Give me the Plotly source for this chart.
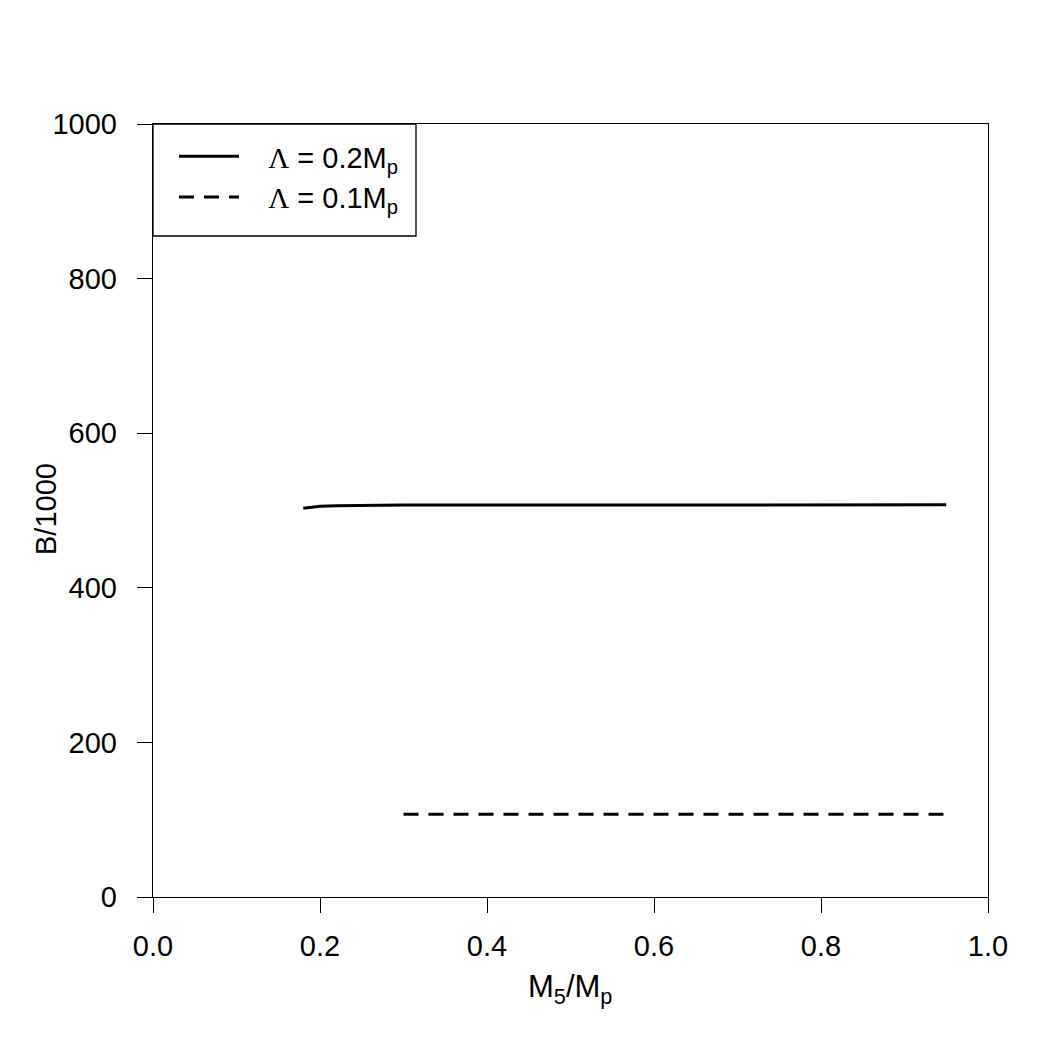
import plotly.graph_objects as go

# Data
x_solid = [0.18, 0.19, 0.20, 0.22, 0.25, 0.30, 0.40, 0.50, 0.60, 0.70, 0.80, 0.90, 0.95]
y_solid = [503.0, 504.5, 505.5, 506.3, 506.7, 507.0, 507.2, 507.3, 507.3, 507.3, 507.3, 507.3, 507.3]
x_dash = [0.30, 0.40, 0.50, 0.60, 0.70, 0.80, 0.90, 0.95]
y_dash = [107.0, 107.0, 107.0, 107.0, 107.0, 107.0, 107.0, 107.0]

x_ticks = [0.0, 0.2, 0.4, 0.6, 0.8, 1.0]
y_ticks = [0, 200, 400, 600, 800, 1000]

lam = "<span style='font-family:Liberation Serif,Times New Roman,serif'>Λ</span>"
pad = "\u00a0\u00a0\u00a0"
names = [pad + lam + " = 0.2M<sub>p</sub>", pad + lam + " = 0.1M<sub>p</sub>"]

font = "Liberation Sans, Arial, sans-serif"
FS = 29

fig = go.Figure()
fig.add_trace(go.Scatter(x=x_solid, y=y_solid, mode="lines", name=names[0],
                         line=dict(color="black", width=3, dash="solid")))
fig.add_trace(go.Scatter(x=x_dash, y=y_dash, mode="lines", name=names[1],
                         line=dict(color="black", width=3, dash="15px,10px")))

# legend frame (R-style box)
fig.add_shape(type="rect", xref="paper", yref="paper",
              x0=0, x1=(416 - 153) / 835, y0=1 - (236 - 124) / 773, y1=1,
              line=dict(color="black", width=1.3), fillcolor="rgba(0,0,0,0)", layer="above")

axis_common = dict(showgrid=False, zeroline=False, showline=True, mirror=True,
                   linecolor="black", linewidth=1.4, ticks="outside", ticklen=15,
                   tickwidth=1.4, tickcolor="black", tickfont=dict(size=FS))

fig.update_layout(
    width=1050, height=1050,
    margin=dict(l=153, r=62, t=124, b=153),
    paper_bgcolor="white", plot_bgcolor="white",
    font=dict(family=font, size=FS, color="black"),
    showlegend=True,
    legend=dict(x=(174 - 153) / 835, y=1 - (131 - 124) / 773, xanchor="left", yanchor="top",
                borderwidth=0, bgcolor="rgba(0,0,0,0)",
                font=dict(size=FS), itemwidth=60, tracegroupgap=0),
    xaxis=dict(range=[0, 1], tickvals=x_ticks, ticktext=[f"{v:.1f}" for v in x_ticks],
               ticklabelstandoff=8, **axis_common),
    yaxis=dict(range=[0, 1000], tickvals=y_ticks, ticktext=[str(v) for v in y_ticks],
               ticklabelstandoff=14, **axis_common),
    annotations=[
        dict(text="M<sub>5</sub>/M<sub>p</sub>", xref="paper", yref="paper",
             x=(570 - 153) / 835, y=(897 - 989) / 773, xanchor="center", yanchor="middle",
             showarrow=False, font=dict(size=31)),
        dict(text="B/1000", xref="paper", yref="paper",
             x=(46 - 153) / 835, y=(897 - 509) / 773, xanchor="center", yanchor="middle",
             textangle=-90, showarrow=False, font=dict(size=FS)),
    ],
)

fig.write_html("out.html")
